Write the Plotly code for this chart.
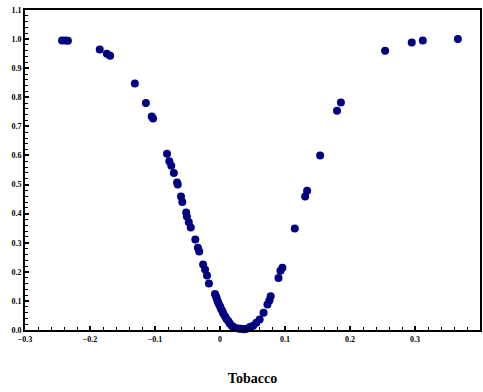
import plotly.graph_objects as go

tobacco = [-0.243, -0.238, -0.234, -0.185, -0.174, -0.169, -0.131, -0.114, -0.105, -0.103,
           -0.0815, -0.078, -0.075, -0.071, -0.066, -0.065, -0.060, -0.058, -0.052, -0.051,
           -0.048, -0.045, -0.038, -0.034, -0.032, -0.026, -0.023, -0.020, -0.017,
           -0.0077, -0.0062, -0.005, -0.0036, -0.002, 0.0, 0.0015, 0.0036, 0.005, 0.0077,
           0.010, 0.013, 0.015, 0.018, 0.0205, 0.0257, 0.030, 0.033, 0.037, 0.041, 0.046,
           0.051, 0.056, 0.061, 0.067, 0.073, 0.076, 0.078, 0.090, 0.093, 0.096, 0.115,
           0.131, 0.134, 0.154, 0.180, 0.186, 0.254, 0.295, 0.312, 0.366]
value = [0.995, 0.995, 0.994, 0.964, 0.950, 0.943, 0.847, 0.780, 0.734, 0.727,
         0.606, 0.580, 0.565, 0.540, 0.507, 0.500, 0.459, 0.440, 0.404, 0.390,
         0.370, 0.352, 0.311, 0.283, 0.270, 0.225, 0.208, 0.187, 0.160,
         0.124, 0.116, 0.108, 0.099, 0.090, 0.082, 0.073, 0.065, 0.057, 0.047,
         0.038, 0.030, 0.022, 0.015, 0.010, 0.006, 0.004, 0.004, 0.003, 0.004, 0.010,
         0.015, 0.025, 0.036, 0.059, 0.088, 0.101, 0.116, 0.179, 0.204, 0.214, 0.349,
         0.459, 0.479, 0.600, 0.754, 0.782, 0.960, 0.988, 0.995, 1.000]

fig = go.Figure(go.Scatter(
    x=tobacco, y=value, mode="markers",
    marker=dict(color="#000080", size=8, line=dict(width=0)),
    cliponaxis=False,
))

serif = "Liberation Serif"
axis_common = dict(
    showgrid=False, zeroline=False, showline=True, linecolor="black", linewidth=2,
    mirror=True, ticks="inside", ticklen=4, tickwidth=1.5, tickcolor="black",
    automargin=False,
    tickfont=dict(family=serif, size=8, color="black", weight="bold"),
)

fig.update_layout(
    width=483, height=392,
    margin=dict(l=25, r=3, t=10, b=62),
    paper_bgcolor="white", plot_bgcolor="white",
    showlegend=False,
    font=dict(family=serif),
    xaxis=dict(range=[-0.3, 0.4], tick0=-0.3, dtick=0.1, tickformat=".1~f",
               minor=dict(dtick=0.02, ticks="inside", ticklen=3, tickcolor="black", tickwidth=1),
               title=dict(text="<b>Tobacco</b>", font=dict(family=serif, size=14, color="black"), standoff=31),
               **axis_common),
    yaxis=dict(range=[0, 1.1], tick0=0, dtick=0.1, tickformat=".1f",
               minor=dict(dtick=0.02, ticks="inside", ticklen=3, tickcolor="black", tickwidth=1),
               **axis_common),
)

fig.write_html("out.html")
